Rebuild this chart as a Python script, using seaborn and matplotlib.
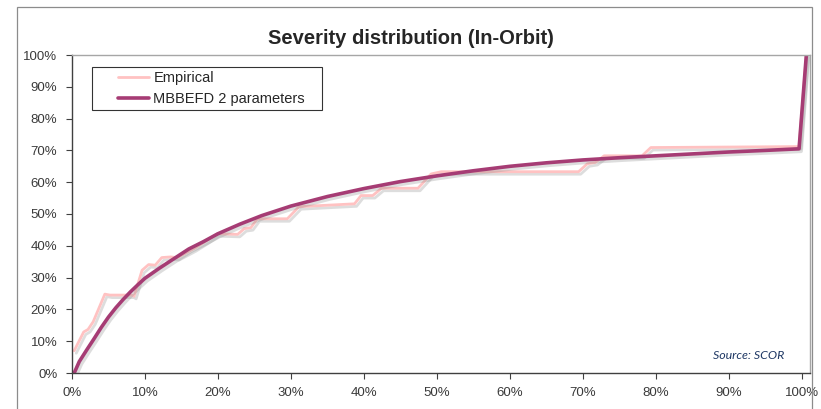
import numpy as np
import pandas as pd
import matplotlib
matplotlib.use("Agg")
import matplotlib.pyplot as plt
import matplotlib.patheffects as pe
from matplotlib.patches import Rectangle
from matplotlib.legend_handler import HandlerLine2D
from matplotlib.ticker import PercentFormatter, MultipleLocator
import seaborn as sns

# data (share of sum insured vs cumulative probability)
emp_x = [0.003, 0.016, 0.022, 0.029, 0.045, 0.052, 0.082, 0.085, 0.096, 0.105,
         0.114, 0.123, 0.135, 0.144, 0.167, 0.185, 0.199, 0.227, 0.236, 0.245,
         0.254, 0.295, 0.311, 0.387, 0.396, 0.412, 0.424, 0.474, 0.492, 0.506,
         0.694, 0.706, 0.717, 0.729, 0.781, 0.793, 0.996, 1.006]
emp_y = [0.070, 0.129, 0.137, 0.161, 0.248, 0.245, 0.245, 0.241, 0.323, 0.341,
         0.339, 0.363, 0.365, 0.363, 0.391, 0.417, 0.438, 0.436, 0.454, 0.457,
         0.485, 0.485, 0.523, 0.532, 0.558, 0.558, 0.581, 0.581, 0.626, 0.633,
         0.633, 0.658, 0.662, 0.683, 0.683, 0.709, 0.712, 1.0]

fit_x = [0.003, 0.01, 0.02, 0.03, 0.04, 0.05, 0.06, 0.07, 0.08, 0.09, 0.10,
         0.12, 0.14, 0.16, 0.18, 0.20, 0.23, 0.26, 0.30, 0.35, 0.40, 0.45,
         0.50, 0.55, 0.60, 0.65, 0.70, 0.75, 0.80, 0.85, 0.90, 0.95, 0.996, 1.006]
fit_y = [0.0, 0.036, 0.072, 0.107, 0.143, 0.176, 0.205, 0.231, 0.255, 0.277, 0.298,
         0.330, 0.360, 0.390, 0.413, 0.438, 0.468, 0.495, 0.525, 0.555, 0.580, 0.602,
         0.620, 0.636, 0.650, 0.661, 0.670, 0.677, 0.683, 0.689, 0.695, 0.700, 0.705, 1.0]

df_emp = pd.DataFrame({"x": emp_x, "y": emp_y})
df_fit = pd.DataFrame({"x": fit_x, "y": fit_y})


class PaddedLine(HandlerLine2D):
    # legend line drawn only on the right part of the handle box, like Excel
    def get_xdata(self, legend, xdescent, ydescent, width, height, fontsize):
        x = np.array([-xdescent + 0.42 * width, -xdescent + width])
        return x, x


sns.set_style("white")
plt.rcParams["font.family"] = ["Liberation Sans", "DejaVu Sans"]

fig = plt.figure(figsize=(8.21, 4.09), dpi=100)
ax = fig.add_axes([72 / 821, 36 / 409, 738 / 821, 318 / 409])

# outer chart frame
fig.patches.append(Rectangle((17 / 821, -0.02), 795 / 821, 1.003, transform=fig.transFigure,
                             fill=False, edgecolor="#8c8c8c", linewidth=0.9))

shadow = [pe.SimpleLineShadow(offset=(1.5, -1.8), shadow_color="#888888", alpha=0.28), pe.Normal()]

sns.lineplot(data=df_emp, x="x", y="y", ax=ax, color="#ffc2c2", linewidth=2.0,
             sort=False, label="Empirical", path_effects=shadow)
sns.lineplot(data=df_fit, x="x", y="y", ax=ax, color="#a63c74", linewidth=2.6,
             sort=False, label="MBBEFD 2 parameters", path_effects=shadow)

ax.set_xlim(0, 1.011)
ax.set_ylim(0, 1.0)
ax.xaxis.set_major_locator(MultipleLocator(0.1))
ax.yaxis.set_major_locator(MultipleLocator(0.1))
ax.xaxis.set_major_formatter(PercentFormatter(1.0, decimals=0))
ax.yaxis.set_major_formatter(PercentFormatter(1.0, decimals=0))
ax.set_xlabel("")
ax.set_ylabel("")
ax.tick_params(axis="both", direction="out", length=4, width=0.8, color="#404040",
               labelsize=9.5, labelcolor="#3a3a3a", left=True, bottom=True)
ax.tick_params(axis="x", pad=6)
ax.tick_params(axis="y", pad=6.5)

for s in ["left", "bottom"]:
    ax.spines[s].set_color("#404040")
    ax.spines[s].set_linewidth(1.0)
for s in ["top", "right"]:
    ax.spines[s].set_color("#a6a6a6")
    ax.spines[s].set_linewidth(1.0)

ax.set_title("Severity distribution (In-Orbit)", fontsize=14.5, fontweight="bold", pad=8,
             x=(411 - 72) / 738)

leg = ax.legend(loc="upper left", bbox_to_anchor=(20 / 738, 1 - 12 / 318, 230 / 738, 0),
                mode="expand", fontsize=10.5, frameon=True, fancybox=False,
                handlelength=3.6, handletextpad=0.3, borderpad=0.3, labelspacing=0.45,
                borderaxespad=0, handler_map={plt.Line2D: PaddedLine()})
leg.get_frame().set_edgecolor("#000000")
leg.get_frame().set_linewidth(0.8)
for h in leg.get_lines():
    h.set_path_effects([])

ax.text((784 - 72) / 738, 0.055, "Source: SCOR", transform=ax.transAxes, ha="right", va="center",
        fontsize=8.9, style="italic", color="#1f3864", family=["Lato", "DejaVu Sans"])

plt.savefig("out.png", dpi=100)
